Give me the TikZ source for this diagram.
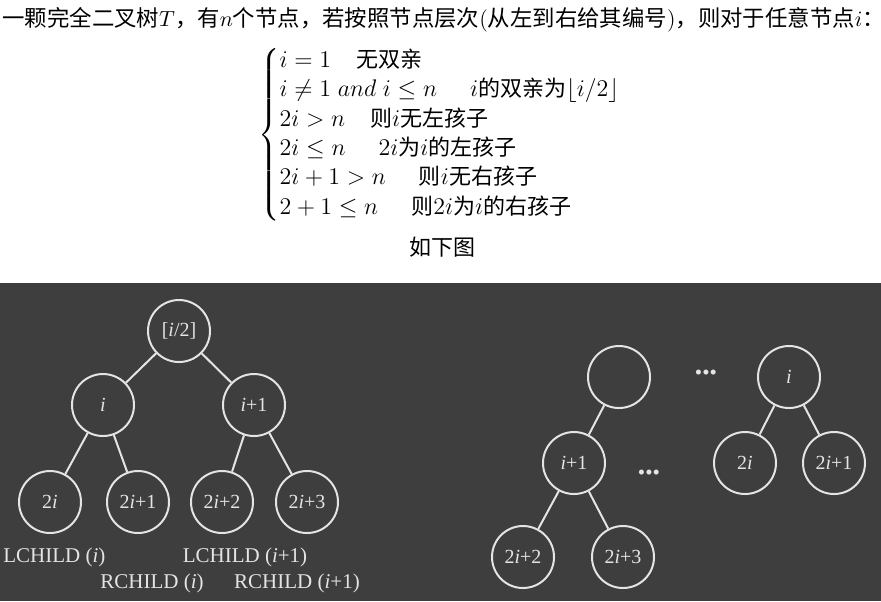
\documentclass[tikz,border=0pt]{standalone}
\usepackage{amsmath}
\usepackage{fontspec}
\newfontfamily\cjk{Noto Sans CJK SC}
\newfontfamily\tms{Liberation Serif}
\usetikzlibrary{positioning}
\definecolor{board}{RGB}{62,62,62}
\definecolor{chalk}{RGB}{228,228,228}
\newcommand{\vi}{{\itshape i}}
\newcommand{\zh}[1]{\text{\cjk\fontsize{11}{12}\selectfont #1}}
\tikzset{
  tnode/.style={circle, draw=chalk, line width=1pt, minimum size=31pt,
                inner sep=0pt, text=chalk, font=\tms\fontsize{10}{12}\selectfont},
  tedge/.style={draw=chalk, line width=1pt},
  clbl/.style={text=chalk, inner sep=0pt, font=\tms\fontsize{10.5}{12}\selectfont},
  dots/.style={text=chalk, inner sep=0pt, font=\tms\fontsize{10.5}{12}\selectfont},
  txt/.style={inner sep=0pt, font=\fontsize{11.2}{13}\selectfont}
}

\begin{document}
\begin{tikzpicture}[x=0.5pt, y=-0.5pt]
        \useasboundingbox (0,0) rectangle (881,601);
        \fill[board] (0,283) rectangle (881,601);
        % text above
        \node[txt, anchor=west] (title) at (2,20)
          {{\cjk 一颗完全二叉树}$T${\cjk ，有}$n${\cjk 个节点，若按照节点层次}({\cjk 从左到右给其编号}){\cjk ，则对于任意节点}$i${\cjk ：}};
        \node[txt, anchor=west, font=\fontsize{12.5}{12.25}\selectfont] (rules) at (258,135) {$\begin{cases}
            i=1 \quad \zh{无双亲}\\
            i\neq 1\; and\; i\leq n \quad\ i\zh{的双亲为}\lfloor i/2\rfloor\\
            2i>n \quad \zh{则}i\zh{无左孩子}\\
            2i\leq n \quad\,\, 2i\zh{为}i\zh{的左孩子}\\
            2i+1>n \quad\ \zh{则}i\zh{无右孩子}\\
            2+1\leq n \quad\ \zh{则}2i\zh{为}i\zh{的右孩子}
          \end{cases}$};
        \node[txt, font=\fontsize{11}{13}\selectfont\cjk] (fig) at (442,247) {如下图};
        % left tree
        \node[tnode] (p) at (179,331) {[\vi/2]};
        \node[tnode] (a) at (103,405) {\vi};
        \node[tnode] (b) at (254,405) {\vi+1};
        \node[tnode] (a1) at (50,502) {2\vi};
        \node[tnode] (a2) at (138,502) {2\vi+1};
        \node[tnode] (b1) at (222,502) {2\vi+2};
        \node[tnode] (b2) at (307,502) {2\vi+3};
        \draw[tedge] (p) -- (a); \draw[tedge] (p) -- (b);
        \draw[tedge] (a) -- (a1); \draw[tedge] (a) -- (a2);
        \draw[tedge] (b) -- (b1); \draw[tedge] (b) -- (b2);
        \node[clbl, anchor=west] (lca) at (3,557) {LCHILD (\vi)};
        \node[clbl] (lcb) at (245,557) {LCHILD (\vi+1)};
        \node[clbl] (rca) at (152,583) {RCHILD (\vi)};
        \node[clbl] (rcb) at (297,583) {RCHILD (\vi+1)};
        % right trees
        \node[tnode] (u) at (619,377) {};
        \node[tnode] (v) at (789,377) {\vi};
        \node[tnode] (w) at (574,463) {\vi+1};
        \node[tnode] (v1) at (745,463) {2\vi};
        \node[tnode] (v2) at (834,463) {2\vi+1};
        \node[tnode] (w1) at (523,557) {2\vi+2};
        \node[tnode] (w2) at (623,557) {2\vi+3};
        \draw[tedge] (u) -- (w);
        \draw[tedge] (w) -- (w1); \draw[tedge] (w) -- (w2);
        \draw[tedge] (v) -- (v1); \draw[tedge] (v) -- (v2);
        \node[dots] (gap1) at (706,375) {•••};
        \node[dots] (gap2) at (649,475) {•••};
\end{tikzpicture}
\end{document}
